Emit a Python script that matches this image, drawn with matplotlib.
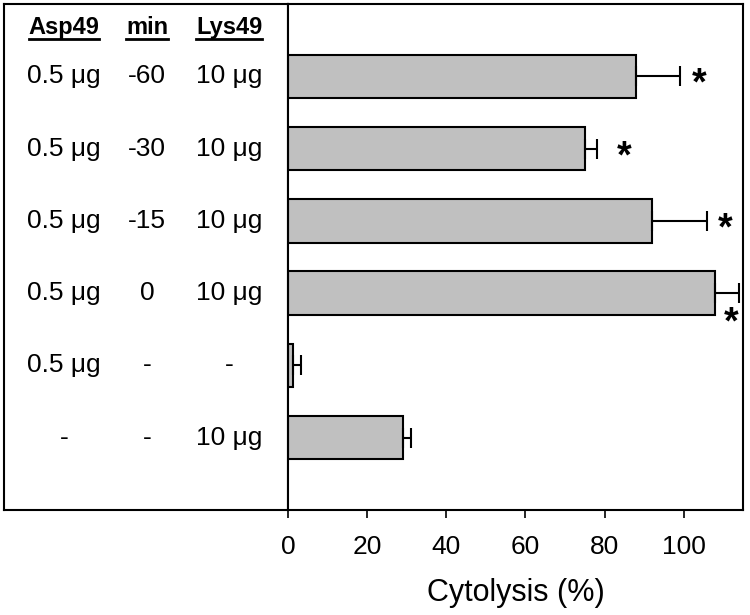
import matplotlib
matplotlib.use("Agg")
import matplotlib.pyplot as plt
import numpy as np

plt.rcParams["font.family"] = ["Liberation Sans", "DejaVu Sans"]

# data (top row first)
asp49 = ["0.5 μg", "0.5 μg", "0.5 μg", "0.5 μg", "0.5 μg", "-"]
minutes = ["-60", "-30", "-15", "0", "-", "-"]
lys49 = ["10 μg", "10 μg", "10 μg", "10 μg", "-", "10 μg"]
headers = ["Asp49", "min", "Lys49"]
cytolysis = [88, 75, 92, 108, 1.2, 29]
errors = [11, 3, 14, 6, 2, 2]
signif = [True, True, True, True, False, False]
star_x = [104, 85, 110.5, 112, None, None]
star_dy = [0.0, 0.0, 0.0, 0.3, 0.0, 0.0]
xticks = [0, 20, 40, 60, 80, 100]

W, H = 750, 615
fig = plt.figure(figsize=(W / 100, H / 100), dpi=100)

def px_axes(x0, y0, x1, y1):
    return fig.add_axes([x0 / W, 1 - y1 / H, (x1 - x0) / W, (y1 - y0) / H])

tab = px_axes(4, 4, 288, 510)
ax = px_axes(288, 4, 743, 510)

pos = np.arange(len(cytolysis))

ax.barh(pos, cytolysis, height=0.6, color="#c0c0c0", edgecolor="black",
        linewidth=1.5, zorder=2)
ax.errorbar(cytolysis, pos, xerr=[np.zeros(len(errors)), errors], fmt="none",
            ecolor="black", elinewidth=1.5, capsize=7, capthick=1.5, zorder=3)
for i, s in enumerate(signif):
    if s:
        # '*' sits high in its em box, push it down to the bar centre
        ax.text(star_x[i], pos[i] + star_dy[i] + 0.12, "*", fontsize=27,
                fontweight="bold", ha="center", va="center")

ax.set_xlim(0, 115)
ax.set_ylim(6, -1)
ax.set_xticks(xticks)
ax.set_yticks([])
ax.tick_params(axis="x", direction="out", length=6, width=1.2, labelsize=19, pad=12)
for sp in ax.spines.values():
    sp.set_linewidth(1.5)
ax.set_xlabel("Cytolysis (%)", fontsize=22, labelpad=14)

# condition table
tab.set_xlim(0, 284)
tab.set_ylim(6, -1)
tab.set_xticks([])
tab.set_yticks([])
for sp in tab.spines.values():
    sp.set_linewidth(1.5)

col_x = [60, 143, 225]
header_y = -0.67
hdr_texts = []
for cx, h in zip(col_x, headers):
    hdr_texts.append(tab.text(cx, header_y, h, fontsize=17, fontweight="bold",
                              ha="center", va="center"))
for i in range(len(pos)):
    for cx, col in zip(col_x, [asp49, minutes, lys49]):
        tab.text(cx, pos[i], col[i], fontsize=19, ha="center", va="center")

# underline the headers
fig.canvas.draw()
r = fig.canvas.get_renderer()
inv = tab.transData.inverted()
for t in hdr_texts:
    bb = t.get_window_extent(r)
    (xa, ya), (xb, _) = inv.transform([(bb.x0, bb.y0), (bb.x1, bb.y0)])
    tab.plot([xa, xb], [ya, ya], color="black", lw=2)

fig.savefig("out.png", dpi=100)
